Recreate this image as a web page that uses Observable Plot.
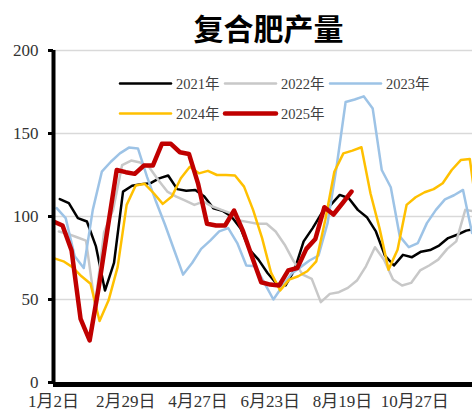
<!DOCTYPE html>
<html>
<head>
<meta charset="utf-8">
<script src="https://cdn.jsdelivr.net/npm/d3@7"></script>
<script src="https://cdn.jsdelivr.net/npm/@observablehq/plot@0.6"></script>
<style>
  html, body { margin: 0; padding: 0; background: #fff; }
  #wrap { position: relative; width: 472px; height: 414px; overflow: hidden; }
  #overlay { position: absolute; left: 0; top: 0; pointer-events: none; }
</style>
</head>
<body>
<div id="wrap"></div>
<script>
// ---- data ----
const title = "复合肥产量";
const years = ["2021年", "2022年", "2023年", "2024年", "2025年"];
// week offset of each year's first data point relative to 2025 (in weeks)
const weekShift = [0.7, 0.6, 0.35, 0.1, 0];
const xTickPos = [0, 8, 16, 24, 32, 40];
const xLabels = ["1月2日", "2月29日", "4月27日", "6月23日", "8月19日", "10月27日"];
const yTicks = [0, 50, 100, 150, 200];

const v2021 = [110.5, 108, 99, 97, 82, 55.4, 72, 115, 118.5, 119.5, 120, 123, 124.7, 116.5, 115.5, 116, 112, 105, 103.5, 100, 93, 80, 74, 66, 59.5, 58.5, 68, 85, 93, 102, 107, 113, 111, 104, 99.6, 91, 76.5, 70.5, 76.9, 75.5, 78.8, 79.8, 82.5, 87, 89, 91.5, 92.5];
const v2022 = [91, 89.5, 87.5, 85.5, 46.4, 90.5, 104, 131, 133.7, 132.5, 129.7, 122, 115, 112, 109.6, 107, 109, 106, 104, 102, 97.6, 96.6, 95.6, 95.6, 91, 83, 73, 65, 62.4, 48.4, 53.4, 54.4, 57, 61.4, 70, 81.5, 74, 62, 58.4, 60, 67.5, 70.5, 74, 80.5, 85, 104, 103];
const v2023 = [105, 99, 76, 69, 104, 127, 133, 138, 141.5, 141, 124, 109, 95, 80, 65, 72, 80.5, 85.5, 91, 93, 84, 70.5, 70, 60, 50, 58, 65.5, 69.5, 73.5, 76.5, 96, 130, 169, 170.5, 172.4, 165, 128, 117.6, 88, 81.5, 84, 96, 104, 110.3, 112.8, 116, 90];
const v2024 = [74.8, 73, 69.5, 64, 59.5, 37, 49.5, 69.5, 107, 118.7, 119.7, 114, 107.6, 112, 123, 130, 126, 127.5, 125, 125, 124.7, 118, 104, 87, 66, 55.5, 62, 64, 67, 73, 98, 127, 138, 139.7, 141.7, 114, 93, 68, 80, 107, 111.6, 114.6, 116.5, 120, 128, 134, 134.7, 95];
const v2025 = [97, 94.6, 79.5, 38.3, 25.3, 57, 93, 128, 126.7, 125.7, 130.7, 130.7, 143.8, 143.8, 138.7, 137.7, 120, 95.6, 94.6, 94.6, 103.6, 91, 75.5, 60.4, 59, 58.5, 67.5, 69, 80.5, 86.5, 105.6, 101.2, 108, 115];

const series = [v2021, v2022, v2023, v2024, v2025];
const colors = ["#000000", "#C8C8C8", "#9DC3E6", "#FFC000", "#C00000"];
const widths = [2.5, 2.5, 2.5, 2.5, 4.5];

const rows = series.map((vals, k) => vals.map((v, i) => ({year: years[k], x: i + weekShift[k], v})));

const serif = '"Liberation Serif", "Times New Roman", "Noto Sans CJK SC", serif';

const lineMarks = rows.map((data, k) => Plot.line(data, {
  x: "x", y: "v", stroke: colors[k], strokeWidth: widths[k],
  strokeLinejoin: "round", strokeLinecap: "round", clip: true
}));

const chart = Plot.plot({
  width: 472,
  height: 414,
  marginTop: 50,
  marginBottom: 32,
  marginLeft: 53,
  marginRight: 0,
  x: {domain: [0, 46.4], label: null},
  y: {domain: [0, 200], label: null},
  style: {fontFamily: serif, fontSize: "17px", color: "#333", background: "#fff", overflow: "visible"},
  marks: [
    Plot.gridY(yTicks.filter(d => d > 0), {stroke: "#D9D9D9", strokeOpacity: 1, strokeWidth: 1.5}),
    ...lineMarks,
    Plot.ruleX([0], {stroke: "#000", strokeWidth: 4}),
    Plot.ruleY([0], {stroke: "#000", strokeWidth: 5, dy: 2}),
    Plot.axisY(yTicks, {label: null, tickSize: 5, tickPadding: 10, stroke: "#000", strokeWidth: 3, fill: "#333", fontSize: 17}),
    Plot.axisX(xTickPos, {label: null, tickSize: 0, tickPadding: 12, fill: "#333", fontSize: 17,
      tickFormat: d => xLabels[xTickPos.indexOf(d)]})
  ]
});

const wrap = document.getElementById("wrap");
wrap.appendChild(chart);

// ---- title and legend overlay ----
const svg = d3.select(wrap).append("svg")
  .attr("id", "overlay").attr("width", 472).attr("height", 414);

svg.append("text")
  .attr("x", 268.5).attr("y", 40)
  .attr("text-anchor", "middle")
  .attr("font-family", '"Noto Sans CJK SC", sans-serif')
  .attr("font-weight", "bold")
  .attr("font-size", 30)
  .attr("fill", "#000")
  .text(title);

const legendPos = [
  {x: 120, y: 83.5}, {x: 225, y: 83.5}, {x: 330, y: 83.5},
  {x: 120, y: 113.5}, {x: 225, y: 113.5}
];
years.forEach((yr, k) => {
  const p = legendPos[k];
  svg.append("line")
    .attr("x1", p.x).attr("x2", p.x + 51)
    .attr("y1", p.y).attr("y2", p.y)
    .attr("stroke", colors[k]).attr("stroke-width", widths[k])
    .attr("stroke-linecap", "round");
  svg.append("text")
    .attr("x", p.x + 56).attr("y", p.y)
    .attr("dominant-baseline", "central")
    .attr("font-family", serif)
    .attr("font-size", 14.5)
    .attr("fill", "#404040")
    .text(yr);
});
</script>
</body>
</html>
